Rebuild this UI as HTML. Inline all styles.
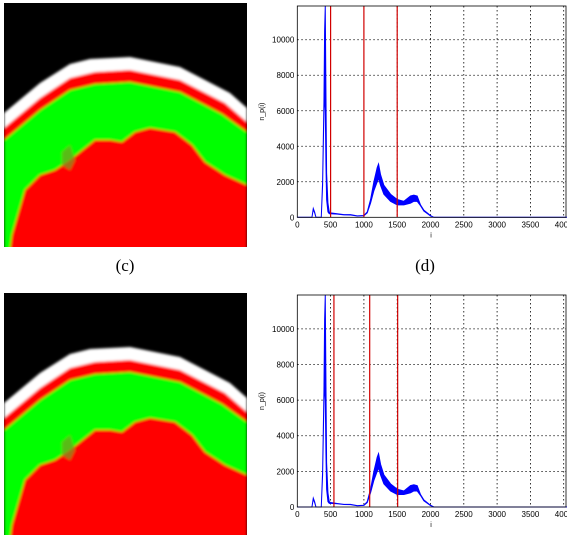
<!DOCTYPE html>
<html><head><meta charset="utf-8"><style>
body{margin:0;background:#fff;width:567px;height:535px;overflow:hidden;font-family:"Liberation Sans",sans-serif}
svg{display:block}
</style></head><body>
<svg id="root" width="567" height="535" viewBox="0 0 567 535" xmlns="http://www.w3.org/2000/svg">
<defs>
<filter id="bl" x="-5%" y="-5%" width="110%" height="110%"><feGaussianBlur stdDeviation="1.2"/></filter>
<clipPath id="imgclip"><rect x="4" y="3" width="243" height="244"/></clipPath>
</defs>
<g id="imgTpl" clip-path="url(#imgclip)">
  <rect x="4" y="3" width="243" height="244" fill="#000"/>
  <g filter="url(#bl)">
  <path d="M4,113 L40,83 L70,64 L90,59 L130,57 L180,67 L230,93 L247,108 L247,260 L4,260Z" fill="#fff"/>
  <path d="M4,128 L40,98 L70,78 L95,72 L130,70 L180,80 L225,103 L247,122 L247,260 L4,260Z" fill="#ff0000"/>
  <path d="M4,140 L40,110 L70,90 L95,84 L130,82 L180,92 L222,114 L247,132 L247,260 L4,260Z" fill="#00ff00"/>
  <path d="M10,250 L12,235 L25,190 L40,175 L55,170 L70,160 L95,140 L110,140 L122,142 L135,132 L150,128 L175,132 L192,145 L205,162 L225,175 L247,185 L247,260 L10,260Z" fill="#ff0000"/>
  <path d="M62,152 L70,145 L75,160 L70,170 L62,165Z" fill="#7fa020" opacity="0.7"/>
  </g>
</g>
<text x="125" y="271" font-family="Liberation Serif,serif" font-size="17" text-anchor="middle">(c)</text>
<text x="425" y="271" font-family="Liberation Serif,serif" font-size="17" text-anchor="middle">(d)</text>
<g id="charts"></g>
</svg>
<script>
const xTicks=[0,500,1000,1500,2000,2500,3000,3500,4000];
const yTicks=[0,2000,4000,6000,8000,10000];
const histX=[0,200,220,240,260,280,360,380,400,410,420,430,440,460,480,500,600,700,800,900,1000,1050,1100,1150,1200,1220,1250,1300,1400,1500,1600,1700,1750,1800,1850,1900,2000,2050,4050];
const histHi=[0,0,0,500,300,0,0,2000,6500,10500,11900,7000,2500,800,300,250,200,150,150,80,100,300,1000,2000,2800,3000,2400,1800,1300,1000,900,1200,1250,1200,700,400,100,0,0];
const histLo=[0,0,0,450,250,0,0,1800,6000,7000,6000,3000,1000,300,200,200,180,140,130,70,90,250,800,1500,2000,2200,1800,1300,900,700,700,800,900,900,650,350,80,0,0];
const thresholdsD=[500,1000,1500];
const thresholdsF=[550,1087,1507];
const NS='http://www.w3.org/2000/svg';
const root=document.getElementById('root');
const tpl=document.getElementById('imgTpl');
const img2=tpl.cloneNode(true);
img2.setAttribute('transform','translate(0,290)');

img2.removeAttribute('id');
root.insertBefore(img2,document.getElementById('charts'));
function mk(tag,attrs,parent){const e=document.createElementNS(NS,tag);for(const k in attrs)e.setAttribute(k,attrs[k]);parent.appendChild(e);return e;}
function chart(top,zeroY,thr,name){
  const L=297.3,R=566,xmax=4050,ymax=11900;
  const X=v=>L+(v/500)*33.3;
  const py=(zeroY-top)/ymax;
  const Y=v=>zeroY-v*py;
  const g=mk('g',{},document.getElementById('charts'));
  
  
  mk('rect',{x:L,y:top,width:R-L,height:zeroY-top,fill:'#fff',stroke:'none'},g);
  xTicks.forEach(t=>{if(t>0){const l=mk('line',{x1:X(t),x2:X(t),y1:top,y2:zeroY,stroke:'#000','stroke-width':0.8,'stroke-dasharray':'1.5,2.5'},g);}
    const tx=mk('text',{x:X(t),y:zeroY+10,'font-size':8,'text-anchor':'middle'},g);tx.textContent=t;});
  yTicks.forEach(t=>{if(t>0){const l=mk('line',{x1:L,x2:R,y1:Y(t),y2:Y(t),stroke:'#000','stroke-width':0.8,'stroke-dasharray':'1.5,2.5'},g);}
    const tx=mk('text',{x:L-3,y:Y(t)+3,'font-size':8,'text-anchor':'end'},g);tx.textContent=t;});
  let d='M'+histX.map((x,i)=>X(x)+','+Y(histHi[i])).join(' L');
  for(let i=histX.length-1;i>=0;i--)d+=' L'+X(histX[i])+','+Y(histLo[i]);
  const p=mk('path',{d:d+'Z',fill:'#0000ff',stroke:'#0000ff','stroke-width':1},g);
  
  
  thr.forEach(t=>{const l=mk('line',{x1:X(t),x2:X(t),y1:top,y2:zeroY,stroke:'#d00000','stroke-width':1.2},g);});
  const fr=mk('rect',{x:L,y:top,width:R-L,height:zeroY-top,fill:'none',stroke:'#000','stroke-width':0.8},g);
  
  const yl=mk('text',{x:0,y:0,'font-size':7,'text-anchor':'middle',transform:`translate(264,${(top+zeroY)/2}) rotate(-90)`},g);
  yl.textContent='n_p(i)';
  const xl=mk('text',{x:431,y:zeroY+20,'font-size':7,'text-anchor':'middle'},g);
  xl.textContent='i';
}
chart(6,217.3,thresholdsD,'histogram-chart-d');
chart(295,507,thresholdsF,'histogram-chart-f');
</script>
</body></html>
